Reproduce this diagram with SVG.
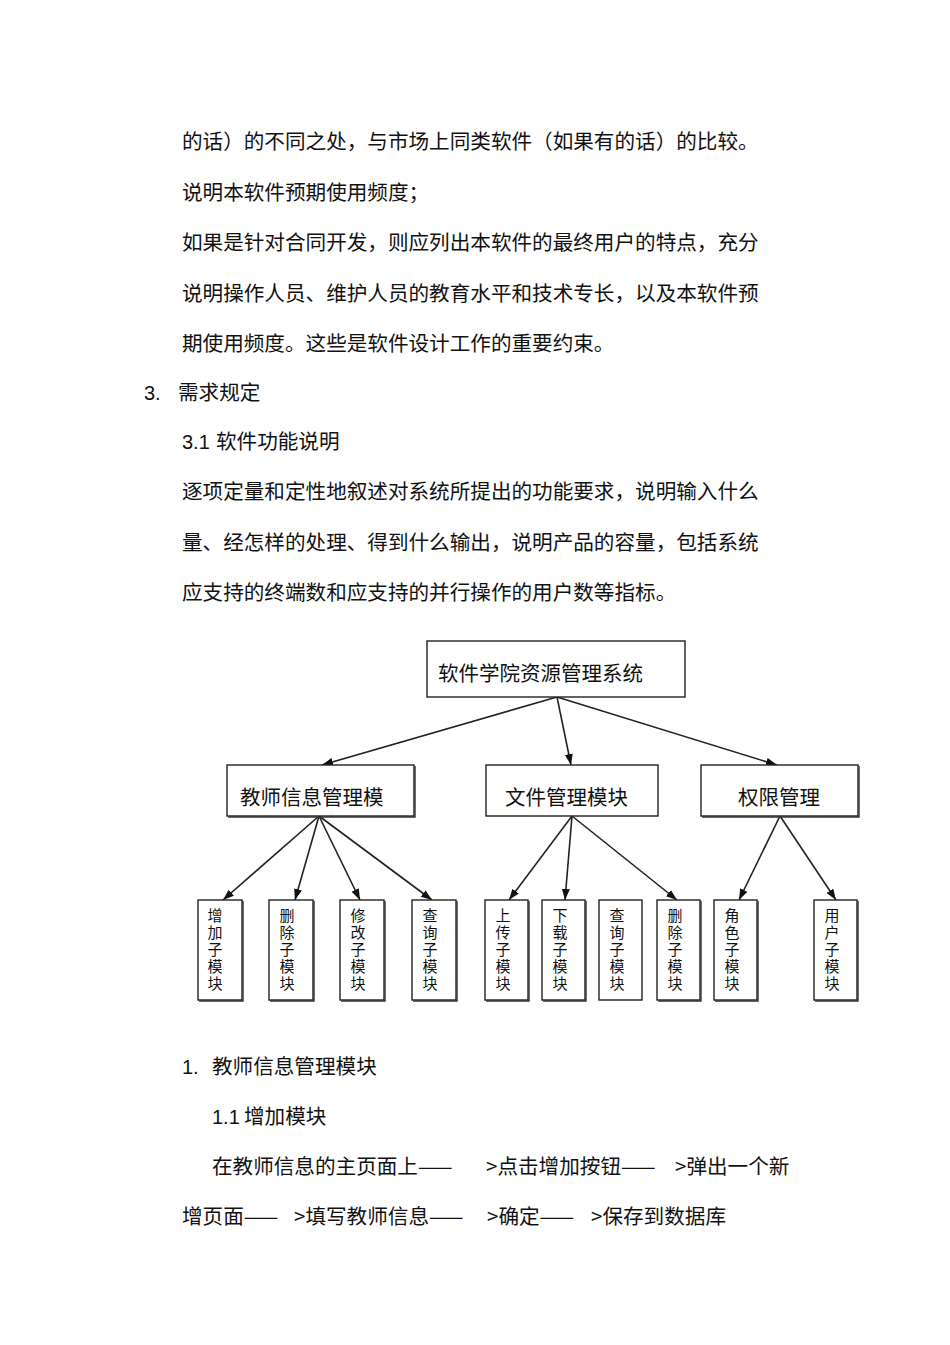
<svg xmlns="http://www.w3.org/2000/svg" width="950" height="1345" viewBox="0 0 950 1345">
<style>
.t{font-family:"Noto Sans CJK SC","Noto Sans",sans-serif;font-size:20.6px;fill:#111}
.n{font-family:"Liberation Sans","Noto Sans CJK SC",sans-serif;font-size:20px;fill:#111}
.bx{fill:#fff;stroke:#222;stroke-width:1.4}
.sh{fill:none;stroke:#333;stroke-width:1.4}
.bt{font-family:"Noto Sans CJK SC",sans-serif;font-size:20.5px;fill:#111}
.lt{font-family:"Noto Sans CJK SC",sans-serif;font-size:15px;fill:#111;writing-mode:vertical-rl;letter-spacing:2px}
.c{stroke:#222;stroke-width:1.6;fill:none;marker-end:url(#ah)}
</style>
<defs>
<marker id="ah" markerUnits="userSpaceOnUse" markerWidth="12" markerHeight="9" refX="11" refY="4" orient="auto">
<path d="M0,0 L11,4 L0,8 z" fill="#111"/>
</marker>
</defs>
<rect x="0" y="0" width="950" height="1345" fill="#fff"/>

<g id="body-top">
<text class="t" x="182" y="149">的话）的不同之处，与市场上同类软件（如果有的话）的比较。</text>
<text class="t" x="182" y="200">说明本软件预期使用频度；</text>
<text class="t" x="182" y="250">如果是针对合同开发，则应列出本软件的最终用户的特点，充分</text>
<text class="t" x="182" y="301">说明操作人员、维护人员的教育水平和技术专长，以及本软件预</text>
<text class="t" x="182" y="351">期使用频度。这些是软件设计工作的重要约束。</text>
<text class="n" x="144" y="400">3.</text>
<text class="t" x="178" y="400">需求规定</text>
<text class="n" x="182" y="449">3.1</text>
<text class="t" x="216" y="449">软件功能说明</text>
<text class="t" x="182" y="499">逐项定量和定性地叙述对系统所提出的功能要求，说明输入什么</text>
<text class="t" x="182" y="550">量、经怎样的处理、得到什么输出，说明产品的容量，包括系统</text>
<text class="t" x="182" y="600">应支持的终端数和应支持的并行操作的用户数等指标。</text>
</g>

<g id="connectors">
<line class="c" x1="557" y1="697" x2="322" y2="765"/>
<line class="c" x1="557" y1="697" x2="571" y2="765"/>
<line class="c" x1="557" y1="697" x2="777" y2="765"/>
<line class="c" x1="319" y1="816" x2="223" y2="900"/>
<line class="c" x1="319" y1="816" x2="295" y2="900"/>
<line class="c" x1="319" y1="816" x2="360" y2="900"/>
<line class="c" x1="319" y1="816" x2="432" y2="900"/>
<line class="c" x1="572" y1="816" x2="509" y2="900"/>
<line class="c" x1="572" y1="816" x2="565" y2="900"/>
<line class="c" x1="572" y1="816" x2="677" y2="900"/>
<line class="c" x1="780" y1="816" x2="739" y2="900"/>
<line class="c" x1="780" y1="816" x2="836" y2="900"/>
</g>

<g id="root">
<rect class="bx" x="427" y="641" width="258" height="56"/>
<text class="bt" x="438" y="681">软件学院资源管理系统</text>
</g>

<g id="teacher">
<rect class="bx" x="227" y="765" width="187" height="51"/>
<polyline class="sh" points="415,766 415,817 228,817"/>
<text class="bt" x="240" y="805">教师信息管理模</text>
</g>
<g id="file">
<rect class="bx" x="486" y="765" width="172" height="51"/>
<text class="bt" x="505" y="805">文件管理模块</text>
</g>
<g id="perm">
<rect class="bx" x="701" y="765" width="157" height="51"/>
<polyline class="sh" points="859,766 859,817 702,817"/>
<text class="bt" x="738" y="805">权限管理</text>
</g>

<g id="leaf1"><rect class="bx" x="198" y="900" width="44" height="100"/><polyline class="sh" points="243,901 243,1001 199,1001"/>
<text class="lt" x="215" y="908">增加子模块</text></g>
<g id="leaf2"><rect class="bx" x="269" y="900" width="44" height="100"/><polyline class="sh" points="314,901 314,1001 270,1001"/>
<text class="lt" x="287" y="908">删除子模块</text></g>
<g id="leaf3"><rect class="bx" x="340" y="900" width="44" height="100"/><polyline class="sh" points="385,901 385,1001 341,1001"/>
<text class="lt" x="358" y="908">修改子模块</text></g>
<g id="leaf4"><rect class="bx" x="412" y="900" width="44" height="100"/><polyline class="sh" points="457,901 457,1001 413,1001"/>
<text class="lt" x="430" y="908">查询子模块</text></g>
<g id="leaf5"><rect class="bx" x="485" y="900" width="43" height="100"/><polyline class="sh" points="529,901 529,1001 486,1001"/>
<text class="lt" x="503" y="908">上传子模块</text></g>
<g id="leaf6"><rect class="bx" x="542" y="900" width="43" height="100"/><polyline class="sh" points="586,901 586,1001 543,1001"/>
<text class="lt" x="560" y="908">下载子模块</text></g>
<g id="leaf7"><rect class="bx" x="599" y="900" width="43" height="100"/>
<text class="lt" x="617" y="908">查询子模块</text></g>
<g id="leaf8"><rect class="bx" x="657" y="900" width="43" height="100"/><polyline class="sh" points="701,901 701,1001 658,1001"/>
<text class="lt" x="675" y="908">删除子模块</text></g>
<g id="leaf9"><rect class="bx" x="714" y="900" width="43" height="100"/><polyline class="sh" points="758,901 758,1001 715,1001"/>
<text class="lt" x="732" y="908">角色子模块</text></g>
<g id="leaf10"><rect class="bx" x="814" y="900" width="43" height="100"/><polyline class="sh" points="858,901 858,1001 815,1001"/>
<text class="lt" x="832" y="908">用户子模块</text></g>

<g id="body-bottom">
<text class="n" x="182" y="1074">1.</text>
<text class="t" x="212" y="1074">教师信息管理模块</text>
<text class="n" x="212" y="1124">1.1</text>
<text class="t" x="244" y="1124">增加模块</text>
<text class="t" y="1174"><tspan x="212">在教师信息的主页面上——</tspan><tspan x="486">&gt;点击增加按钮——</tspan><tspan x="675">&gt;弹出一个新</tspan></text>
<text class="t" y="1224"><tspan x="182">增页面——</tspan><tspan x="294">&gt;填写教师信息——</tspan><tspan x="487">&gt;确定——</tspan><tspan x="591">&gt;保存到数据库</tspan></text>
</g>
</svg>
